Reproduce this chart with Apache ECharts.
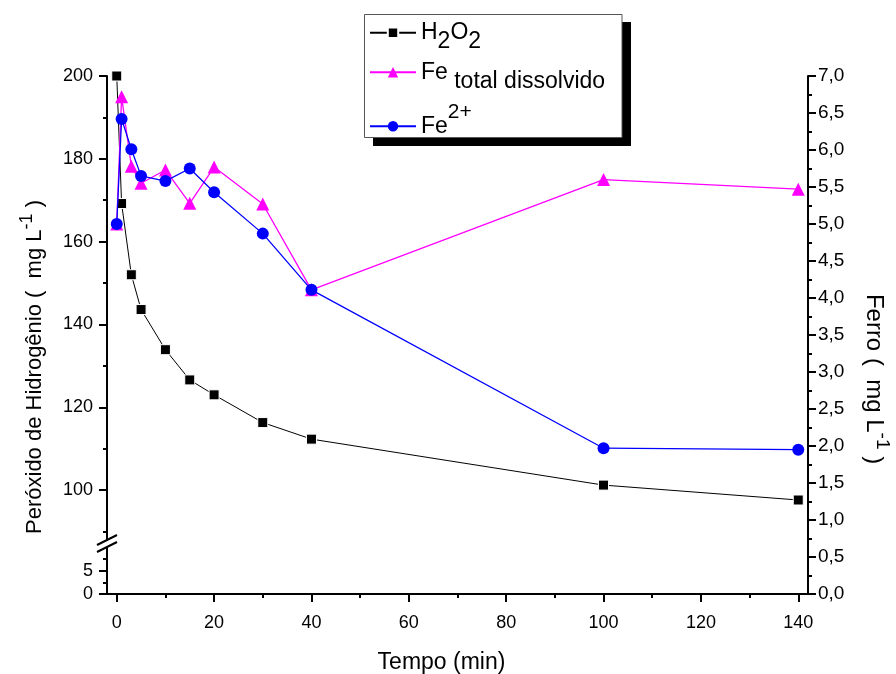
<!DOCTYPE html>
<html>
<head>
<meta charset="utf-8">
<script src="https://cdn.jsdelivr.net/npm/echarts@6/dist/echarts.min.js"></script>
<style>
  html, body { margin: 0; padding: 0; background: #ffffff; }
  #chart { width: 896px; height: 674px; }
</style>
</head>
<body>
<div id="chart"></div>
<script>
// Sampling times (min)
const tempo = [0, 1, 3, 5, 10, 15, 20, 30, 40, 100, 140];
// Hydrogen peroxide concentration (mg L-1), left axis
const h2o2 = [200, 169.2, 152.0, 143.6, 133.9, 126.6, 123.0, 116.3, 112.3, 101.2, 97.6];
// Total dissolved iron (mg L-1), right axis
const feTotal = [5.0, 6.72, 5.78, 5.55, 5.73, 5.28, 5.77, 5.27, 4.11, 5.60, 5.47];
// Ferrous iron Fe2+ (mg L-1), right axis
const fe2 = [5.0, 6.42, 6.01, 5.65, 5.58, 5.75, 5.43, 4.87, 4.11, 1.97, 1.95];

// Tick positions
const xTicks = [0, 20, 40, 60, 80, 100, 120, 140];
const xMinorTicks = [10, 30, 50, 70, 90, 110, 130];
const h2o2Ticks = [100, 120, 140, 160, 180, 200];
const h2o2MinorTicks = [90, 110, 130, 150, 170, 190];
const lowTicks = [0, 5];
const lowMinorTicks = [2.5, 7.5];

const FONT = '"Liberation Sans", Arial, Helvetica, sans-serif';
const X_MIN = -2, X_MAX = 142;
const UP_MIN = 74.9, UP_MAX = 200;   // upper segment of the broken left axis
const LOW_MIN = 0, LOW_MAX = 110.9;  // lower segment (0..5 shown below the break)

const pairs = (ys) => tempo.map((t, i) => [t, ys[i]]);

const lineAxis = { show: true, onZero: false, lineStyle: { color: '#000', width: 2 } };
const noLine = { show: false, onZero: false };
const majorTick = (vals) => ({ show: true, customValues: vals, length: 8, lineStyle: { color: '#000', width: 2 } });
const minorTickAx = (vals) => ({ show: true, customValues: vals, length: 4, lineStyle: { color: '#000', width: 2 } });
const tickLabel = (vals, margin) => ({
  show: true, customValues: vals, margin: margin,
  color: '#000', fontSize: 18, fontFamily: FONT
});
const hidden = { show: false };

// Rich-text styles for legend entries (sub- and superscripts)
const legendRich = {
  m: { fontSize: 23, fontFamily: FONT, color: '#000', lineHeight: 42 },
  s: { fontSize: 23, fontFamily: FONT, color: '#000', lineHeight: 42, padding: [18, 0, 0, 0] },
  m3: { fontSize: 23, fontFamily: FONT, color: '#000', lineHeight: 50 },
  p: { fontSize: 21, fontFamily: FONT, color: '#000', lineHeight: 50, padding: [0, 0, 28, 0] }
};
const legendText = {
  'H2O2': '{m|H}{s|2}{m|O}{s|2}',
  'Fe total dissolvido': '{m|Fe}{s| total dissolvido}',
  'Fe2+': '{m3|Fe}{p|2+}'
};
const legendEntry = (name, top) => ({
  orient: 'vertical', left: 369, top: top, padding: 0,
  itemWidth: 46, itemHeight: 13,
  data: [name],
  formatter: (n) => legendText[n],
  selectedMode: false,
  textStyle: { color: '#000', fontFamily: FONT, rich: legendRich }
});

const chart = echarts.init(document.getElementById('chart'), null, { renderer: 'canvas' });

chart.setOption({
  animation: false,
  backgroundColor: '#ffffff',
  grid: { left: 107, right: 88, top: 76, bottom: 80, containLabel: false, outerBoundsMode: 'none' },
  xAxis: [
    {
      type: 'value', position: 'bottom', min: X_MIN, max: X_MAX,
      axisLine: lineAxis, axisTick: majorTick(xTicks), axisLabel: tickLabel(xTicks, 20),
      splitLine: hidden,
      name: 'Tempo (min)', nameLocation: 'middle', nameGap: 57,
      nameTextStyle: { color: '#000', fontSize: 23, fontFamily: FONT, padding: [0, 32, 0, 0] }
    },
    {
      type: 'value', position: 'bottom', min: X_MIN, max: X_MAX,
      axisLine: noLine, axisTick: minorTickAx(xMinorTicks), axisLabel: hidden, splitLine: hidden
    }
  ],
  yAxis: [
    {
      type: 'value', position: 'left', min: UP_MIN, max: UP_MAX,
      axisLine: lineAxis, axisTick: majorTick(h2o2Ticks), axisLabel: tickLabel(h2o2Ticks, 14),
      splitLine: hidden,
      name: '{n|Peróxido de Hidrogênio (  mg L}{u|-1}{n| )}',
      nameLocation: 'middle', nameGap: 58, nameRotate: 90,
      nameTextStyle: {
        color: '#000', fontFamily: FONT, padding: [0, 64, 0, 0],
        rich: {
          n: { fontSize: 22, fontFamily: FONT, color: '#000', lineHeight: 26 },
          u: { fontSize: 18, fontFamily: FONT, color: '#000', lineHeight: 26, padding: [0, 0, 16, 0] }
        }
      }
    },
    {
      type: 'value', position: 'right', min: 0, max: 7, interval: 0.5,
      axisLine: lineAxis,
      axisTick: { show: true, length: 8, lineStyle: { color: '#000', width: 2 } },
      minorTick: { show: true, splitNumber: 2, length: 4, lineStyle: { color: '#000', width: 2 } },
      axisLabel: {
        show: true, margin: 10, color: '#000', fontSize: 19, fontFamily: FONT,
        formatter: (v) => v.toFixed(1).replace('.', ',')
      },
      splitLine: hidden, minorSplitLine: hidden,
      name: '{n|Ferro (  mg L}{u|-1}{n| )}',
      nameLocation: 'middle', nameGap: 52, nameRotate: -90,
      nameTextStyle: {
        color: '#000', fontFamily: FONT, padding: [0, 0, 0, 88],
        rich: {
          n: { fontSize: 24, fontFamily: FONT, color: '#000', lineHeight: 28 },
          u: { fontSize: 19, fontFamily: FONT, color: '#000', lineHeight: 28, padding: [0, 0, 17, 0] }
        }
      }
    },
    {
      type: 'value', position: 'left', min: UP_MIN, max: UP_MAX,
      axisLine: noLine, axisTick: minorTickAx(h2o2MinorTicks), axisLabel: hidden, splitLine: hidden
    },
    {
      type: 'value', position: 'left', min: LOW_MIN, max: LOW_MAX,
      axisLine: noLine, axisTick: majorTick(lowTicks), axisLabel: tickLabel(lowTicks, 14), splitLine: hidden
    },
    {
      type: 'value', position: 'left', min: LOW_MIN, max: LOW_MAX,
      axisLine: noLine, axisTick: minorTickAx(lowMinorTicks), axisLabel: hidden, splitLine: hidden
    }
  ],
  legend: [
    legendEntry('H2O2', 12.3),
    legendEntry('Fe total dissolvido', 51.7),
    legendEntry('Fe2+', 101.7)
  ],
  graphic: [
    // legend frame with drop shadow
    { type: 'rect', z: 1, shape: { x: 373, y: 22, width: 258, height: 124 }, style: { fill: '#000' } },
    { type: 'rect', z: 2, shape: { x: 364.5, y: 14.5, width: 257.5, height: 123 }, style: { fill: '#fff', stroke: '#555', lineWidth: 1 } },
    // break marks on the left axis
    { type: 'polygon', z: 10, shape: { points: [[100, 544], [114, 537], [114, 543.5], [100, 550.5]] }, style: { fill: '#fff' } },
    { type: 'line', z: 11, shape: { x1: 97, y1: 545, x2: 117, y2: 535 }, style: { stroke: '#000', lineWidth: 2 } },
    { type: 'line', z: 11, shape: { x1: 97, y1: 552, x2: 117, y2: 542 }, style: { stroke: '#000', lineWidth: 2 } }
  ],
  series: [
    {
      name: 'H2O2', type: 'line', xAxisIndex: 0, yAxisIndex: 0,
      data: pairs(h2o2),
      symbol: 'rect', symbolSize: 10,
      itemStyle: { color: '#000', borderColor: '#fff', borderWidth: 1 },
      lineStyle: { color: '#000', width: 1 },
      z: 3
    },
    {
      name: 'Fe total dissolvido', type: 'line', xAxisIndex: 0, yAxisIndex: 1,
      data: pairs(feTotal),
      symbol: 'triangle', symbolSize: 13,
      itemStyle: { color: '#ff00ff' },
      lineStyle: { color: '#ff00ff', width: 1.3 },
      z: 4
    },
    {
      name: 'Fe2+', type: 'line', xAxisIndex: 0, yAxisIndex: 1,
      data: pairs(fe2),
      symbol: 'circle', symbolSize: 12,
      itemStyle: { color: '#0000ff' },
      lineStyle: { color: '#0000ff', width: 1.3 },
      z: 5
    }
  ]
});
</script>
</body>
</html>
